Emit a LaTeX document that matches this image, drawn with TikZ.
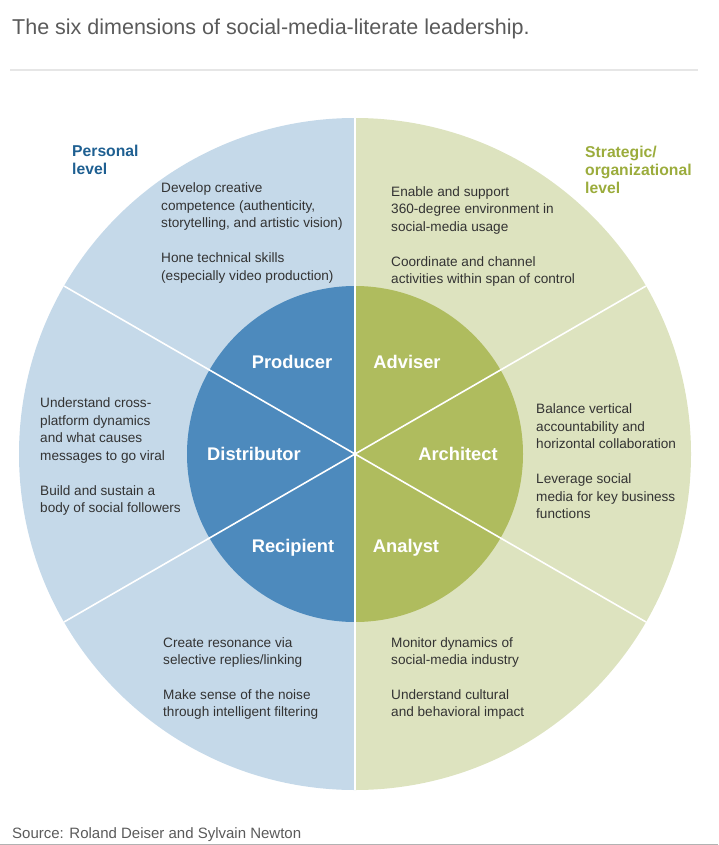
\documentclass[tikz,border=0pt]{standalone}
\usepackage{fontspec}
\setmainfont{Liberation Sans}

\definecolor{outerblue}{HTML}{C5D9E9}
\definecolor{innerblue}{HTML}{4D8ABD}
\definecolor{outergreen}{HTML}{DDE3BF}
\definecolor{innergreen}{HTML}{AFBC5E}
\definecolor{headblue}{HTML}{1E5F91}
\definecolor{headgreen}{HTML}{9BAC3C}
\definecolor{textgray}{HTML}{333333}
\definecolor{titlegray}{HTML}{5A5A5A}
\definecolor{rulegray}{HTML}{E6E6E6}

\tikzset{
  bodytext/.style={anchor=north west, inner sep=0pt, align=left, text=textgray,
    font=\fontsize{13.6}{17.6}\selectfont},
  leveltext/.style={anchor=north west, inner sep=0pt, align=left,
    font=\fontsize{15.7}{18}\selectfont\bfseries},
  rolelabel/.style={inner sep=0pt, text=white, text height=13pt, text depth=0pt,
    font=\fontsize{18.3}{21}\selectfont\bfseries},
  divider/.style={white, line width=1.6pt}
}

\begin{document}
\begin{tikzpicture}[x=1pt,y=-1pt]
\useasboundingbox (0,0) rectangle (718,845);
\coordinate (ctr) at (355,454);

\node[anchor=base west, inner sep=0pt, text=titlegray, font=\fontsize{21.5}{24}\selectfont] (title) at (12,34.5) {The six dimensions of social-media-literate leadership.};
\draw[rulegray, line width=1.5pt] (10,70) -- (698,70);

\begin{scope}
\clip (0,0) rectangle (355,845);
\fill[outerblue] (ctr) circle[radius=336];
\fill[innerblue] (ctr) circle[radius=168];
\end{scope}

\begin{scope}
\clip (355,0) rectangle (718,845);
\fill[outergreen] (ctr) circle[radius=336];
\fill[innergreen] (ctr) circle[radius=168];
\end{scope}

\foreach \a in {30,90,150,210,270,330}
  \draw[divider] (ctr) -- ++(\a:336);

\node[rolelabel] (producer) at (292,361.5) {Producer};
\node[rolelabel] (adviser) at (407,361.5) {Adviser};
\node[rolelabel] (distributor) at (254,454) {Distributor};
\node[rolelabel] (architect) at (458,454) {Architect};
\node[rolelabel] (recipient) at (293,546) {Recipient};
\node[rolelabel] (analyst) at (406,546) {Analyst};

\node[leveltext, text=headblue] (personal) at (72,145) {Personal\\level};
\node[leveltext, text=headgreen] (strategic) at (585,145.5) {Strategic/\\organizational\\level};

\node[bodytext] (producertext) at (161,182.6) {Develop creative\\competence (authenticity,\\storytelling, and artistic vision)\\[17pt]Hone technical skills\\(especially video production)};
\node[bodytext] (advisertext) at (391,186.3) {Enable and support\\360-degree environment in\\social-media usage\\[17pt]Coordinate and channel\\activities within span of control};
\node[bodytext] (distributortext) at (40,397.6) {Understand cross-\\platform dynamics\\and what causes\\messages to go viral\\[17pt]Build and sustain a\\body of social followers};
\node[bodytext] (architecttext) at (536,403.6) {Balance vertical\\accountability and\\horizontal collaboration\\[17pt]Leverage social\\media for key business\\functions};
\node[bodytext] (recipienttext) at (163,637) {Create resonance via\\selective replies/linking\\[17pt]Make sense of the noise\\through intelligent filtering};
\node[bodytext] (analysttext) at (391,637) {Monitor dynamics of\\social-media industry\\[17pt]Understand cultural\\and behavioral impact};

\node[anchor=base west, inner sep=0pt, text=titlegray, font=\fontsize{15}{18}\selectfont] (source) at (12,838.5) {Source: Roland Deiser and Sylvain Newton};
\draw[gray!60, line width=1.2pt] (0,844.4) -- (718,844.4);
\end{tikzpicture}
\end{document}
